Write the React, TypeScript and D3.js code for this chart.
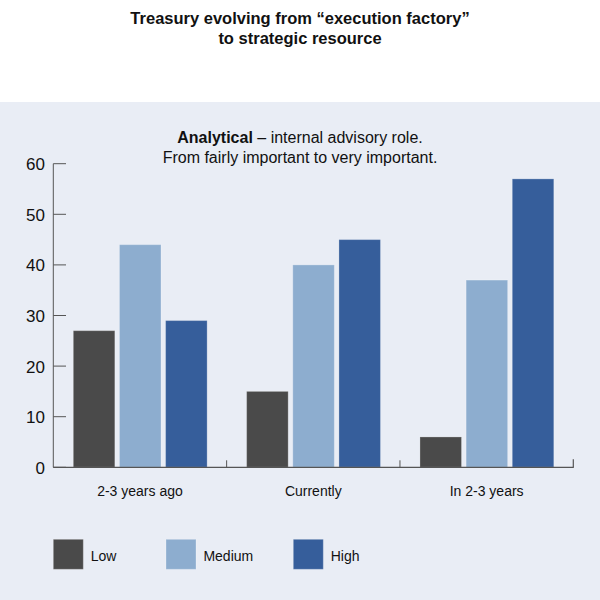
import React from "react";
import * as d3 from "d3";

const categories = ["2-3 years ago", "Currently", "In 2-3 years"];
const seriesNames = ["Low", "Medium", "High"];
const lowValues = [27, 15, 6];
const mediumValues = [44, 40, 37];
const highValues = [29, 45, 57];
const yTicks = [0, 10, 20, 30, 40, 50, 60];
const colors = ["#4a4a4a", "#8dadcf", "#365e9b"];

const W = 600;
const H = 600;
const font = "'Liberation Sans', Arial, Helvetica, sans-serif";

export default function App() {
  const series = [lowValues, mediumValues, highValues];
  const x0 = d3.scaleBand<string>().domain(categories).range([53.3, 573.3]).paddingInner(0).paddingOuter(0);
  const x1 = d3
    .scaleBand<string>()
    .domain(seriesNames)
    .range([20, x0.bandwidth() - 19.5])
    .paddingInner(0.1)
    .paddingOuter(0);
  const y = d3.scaleLinear().domain([0, 60]).range([467.3, 163.7]);

  const axisColor = "#555";

  return (
    <svg
      width={W}
      height={H}
      style={{ position: "absolute", left: 0, top: 0, display: "block" }}
      fontFamily={font}
    >
      <rect x={0} y={0} width={W} height={H} fill="#ffffff" />
      <rect x={0} y={102} width={W} height={H - 102} fill="#e9edf5" />

      <text x={300} y={23.5} textAnchor="middle" fontSize={16.5} fontWeight="bold" fill="#111">
        Treasury evolving from “execution factory”
      </text>
      <text x={300} y={43.5} textAnchor="middle" fontSize={16.5} fontWeight="bold" fill="#111">
        to strategic resource
      </text>

      <text x={300} y={143} textAnchor="middle" fontSize={16} fill="#111">
        <tspan fontWeight="bold">Analytical</tspan>
        <tspan> – internal advisory role.</tspan>
      </text>
      <text x={300} y={163} textAnchor="middle" fontSize={16} fill="#111">
        From fairly important to very important.
      </text>

      {/* bars */}
      {categories.map((c, ci) => (
        <g key={c} transform={`translate(${x0(c)},0)`}>
          {seriesNames.map((s, si) => {
            const v = series[si][ci];
            return (
              <rect
                key={s}
                x={x1(s)}
                y={y(v)}
                width={x1.bandwidth()}
                height={y(0) - y(v)}
                fill={colors[si]}
                stroke="rgba(255,255,255,0.25)"
                strokeWidth={1}
              />
            );
          })}
        </g>
      ))}

      {/* y axis */}
      <line x1={53.3} x2={53.3} y1={y(60)} y2={y(0)} stroke={axisColor} strokeWidth={1} />
      {yTicks.map((t) => (
        <g key={t}>
          <line x1={53.3} x2={66} y1={y(t)} y2={y(t)} stroke={axisColor} strokeWidth={1} />
          <text x={45} y={y(t) + 6.5} textAnchor="end" fontSize={17} fill="#111">
            {t}
          </text>
        </g>
      ))}

      {/* x axis */}
      <line x1={53.3} x2={573.8} y1={y(0)} y2={y(0)} stroke={axisColor} strokeWidth={1.2} />
      {categories.slice(1).map((c) => (
        <line key={c} x1={x0(c)} x2={x0(c)} y1={y(0) - 7} y2={y(0)} stroke={axisColor} strokeWidth={1} />
      ))}
      <line x1={573.3} x2={573.3} y1={y(0) - 8} y2={y(0)} stroke={axisColor} strokeWidth={1.2} />
      {categories.map((c) => (
        <text key={c} x={(x0(c) ?? 0) + x0.bandwidth() / 2} y={496} textAnchor="middle" fontSize={14} fill="#111">
          {c}
        </text>
      ))}

      {/* legend */}
      {seriesNames.map((s, i) => {
        const lx = [53.3, 166, 293.3][i];
        return (
          <g key={s}>
            <rect x={lx} y={539.3} width={30} height={30} fill={colors[i]} stroke="rgba(255,255,255,0.25)" strokeWidth={1} />
            <text x={lx + 37.4} y={560.5} fontSize={14} fill="#111">
              {s}
            </text>
          </g>
        );
      })}
    </svg>
  );
}
